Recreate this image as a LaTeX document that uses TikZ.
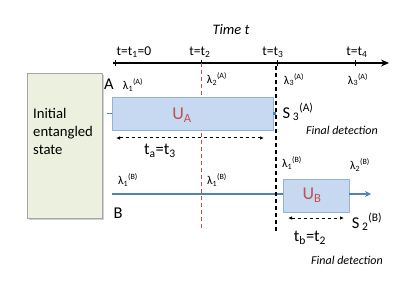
\documentclass[tikz,border=0pt]{standalone}
\usepackage{fontspec}
\setmainfont{Carlito}
\usetikzlibrary{arrows.meta}
\definecolor{boxfill}{HTML}{C6D9F1}
\definecolor{boxline}{HTML}{95B3D7}
\definecolor{lineblue}{HTML}{4F81BD}
\definecolor{ured}{HTML}{C0504D}
\definecolor{initfill}{HTML}{EBF1DE}
\definecolor{initline}{HTML}{A6A6A6}
\newcommand{\lamlab}[2]{λ\textsubscript{#1}\textsuperscript{(#2)}}
\tikzset{
  opbox/.style={draw=boxline, fill=boxfill, line width=0.8pt, inner sep=0pt},
  lab/.style={inner sep=0pt, font=\fontsize{12}{14}\selectfont},
  ticklab/.style={inner sep=0pt, font=\fontsize{13.5}{15}\selectfont},
  big/.style={inner sep=0pt, font=\fontsize{16.5}{18}\selectfont},
  fin/.style={inner sep=0pt, font=\fontsize{12}{14}\selectfont\itshape},
  dur/.style={dashed, line width=1pt, {Latex[length=4pt,width=3.5pt]}-{Latex[length=4pt,width=3.5pt]}},
  bline/.style={draw=lineblue, line width=1.2pt},
}
\begin{document}
\begin{tikzpicture}[x=1pt,y=-1pt]
\useasboundingbox (0,0) rectangle (415,294);
% initial state box
\fill[black!18] (29,75) rectangle (104,220);
\node[draw=initline, fill=initfill, line width=0.8pt, minimum width=75pt, minimum height=145pt, inner sep=0pt] (init) at (64.5,145.5) {};
\node[inner sep=0pt, anchor=west, align=left, font=\fontsize{14.7}{18}\selectfont] (inittxt) at (33,131) {Initial\\entangled\\state};
% time axis
\coordinate (ax0) at (113,63);
\coordinate (ax1) at (389,63);
\draw[line width=1.6pt, -{Stealth[length=8pt,width=7pt]}] (ax0) -- (ax1);
\foreach \x in {115,201,277,355} \draw[line width=1pt] (\x,60) -- (\x,66);
\node[inner sep=0pt, font=\fontsize{14.5}{16}\selectfont\itshape] (time) at (231,30) {Time t};
\node[ticklab] (t1) at (134,52) {t=t\textsubscript{1}=0};
\node[ticklab] (t2) at (200,52) {t=t\textsubscript{2}};
\node[ticklab] (t3) at (273,52) {t=t\textsubscript{3}};
\node[ticklab] (t4) at (357,52) {t=t\textsubscript{4}};
% vertical dashed lines
\coordinate (r0) at (201,63);
\coordinate (r1) at (201,231);
\draw[ured, line width=1pt, dash pattern=on 4pt off 3pt] (r0) -- (r1);
% A line
\node[opbox, minimum width=161pt, minimum height=33pt] (UA) at (192.5,113.5) {};
\coordinate (Ain) at (107,113.5);
\draw[bline] (Ain) -- (UA.west);
\coordinate (Aout) at (276,113.5);
\draw[lineblue, line width=3pt] (UA.east) -- (Aout);
\node[inner sep=0pt, text=ured, font=\fontsize{18}{20}\selectfont] (UAt) at (182,115) {U\textsubscript{A}};
% B line
\node[opbox, minimum width=66pt, minimum height=33pt] (UB) at (316,195.5) {};
\coordinate (Bin) at (112,194);
\coordinate (Bout) at (371,194);
\draw[bline] (Bin) -- (Bin -| UB.west);
\draw[bline, -{Stealth[length=6pt,width=6pt]}] (UB.east |- Bout) -- (Bout);
\node[inner sep=0pt, text=ured, font=\fontsize{18}{20}\selectfont] (UBt) at (312,195) {U\textsubscript{B}};
% black dashed line
\coordinate (k0) at (276,66);
\coordinate (k1) at (276,232);
\draw[black, line width=1.3pt, dash pattern=on 4pt off 3pt] (k0) -- (k1);
% labels A
\node[big] (Alab) at (109,84) {A};
\node[lab] (l1A) at (133,85) {\lamlab{1}{A}};
\node[lab] (l2A) at (217,79) {\lamlab{2}{A}};
\node[lab] (l3A) at (294,80) {\lamlab{3}{A}};
\node[lab] (l3Ab) at (358,80) {\lamlab{3}{A}};
\node[big] (S3) at (298,112) {S\,\textsubscript{3}\textsuperscript{(A)}};
\node[fin] (fdA) at (342,130) {Final detection};
\coordinate (da0) at (116,138);
\coordinate (da1) at (264,138);
\draw[dur] (da0) -- (da1);
\node[big] (ta) at (160,151) {t\textsubscript{a}=t\textsubscript{3}};
% labels B
\node[big] (Blab) at (118,213) {B};
\node[lab] (l1B) at (128,180) {\lamlab{1}{B}};
\node[lab] (l1Bb) at (217,180) {\lamlab{1}{B}};
\node[lab] (l1Bc) at (292,163) {\lamlab{1}{B}};
\node[lab] (l2B) at (360,165) {\lamlab{2}{B}};
\node[big] (S2) at (367,222) {S\,\textsubscript{2}\textsuperscript{(B)}};
\coordinate (db0) at (288,218);
\coordinate (db1) at (344,218);
\draw[dur] (db0) -- (db1);
\node[big] (tb) at (310,238) {t\textsubscript{b}=t\textsubscript{2}};
\node[fin] (fdB) at (347,260) {Final detection};
\end{tikzpicture}
\end{document}
